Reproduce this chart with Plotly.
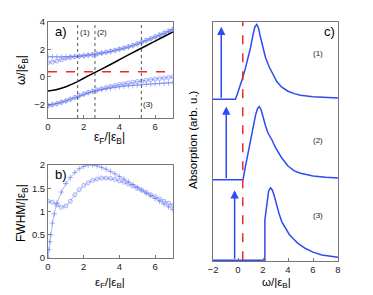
import plotly.graph_objects as go

# ---------------- data ----------------
eps = [0, 0.25, 0.5, 0.75, 1.0, 1.25, 1.5, 1.75, 2.0, 2.25, 2.5, 2.75, 3.0, 3.25, 3.5,
       3.75, 4.0, 4.25, 4.5, 4.75, 5.0, 5.25, 5.5, 5.75, 6.0, 6.25, 6.5, 6.75, 7.0]

upper_plus = [1.46, 1.46, 1.45, 1.45, 1.45, 1.46, 1.48, 1.5, 1.53, 1.57, 1.61, 1.66, 1.72, 1.78, 1.85,
              1.92, 2.0, 2.08, 2.17, 2.27, 2.39, 2.52, 2.64, 2.76, 2.9, 3.03, 3.17, 3.31, 3.45]
upper_circ = [1.05, 1.08, 1.15, 1.25, 1.35, 1.42, 1.47, 1.51, 1.55, 1.59, 1.63, 1.68, 1.74, 1.8, 1.87,
              1.94, 2.02, 2.1, 2.2, 2.3, 2.42, 2.55, 2.67, 2.79, 2.93, 3.06, 3.2, 3.34, 3.48]
lower_circ = [-2.1, -2.03, -1.95, -1.85, -1.75, -1.63, -1.5, -1.37, -1.25, -1.14, -1.04, -0.95, -0.86, -0.78, -0.7,
              -0.63, -0.56, -0.5, -0.44, -0.39, -0.34, -0.3, -0.25, -0.2, -0.16, -0.12, -0.08, -0.04, 0.0]
lower_plus = [-2.1, -2.03, -1.95, -1.86, -1.76, -1.64, -1.52, -1.39, -1.27, -1.16, -1.07, -0.99, -0.92, -0.86, -0.81,
              -0.76, -0.72, -0.68, -0.65, -0.62, -0.6, -0.57, -0.54, -0.52, -0.5, -0.48, -0.46, -0.44, -0.42]

eps_line = [0, 0.5, 1.0, 1.5, 2.0, 2.5, 3.0, 3.5, 4.0, 4.5, 5.0, 5.5, 6.0, 6.5, 7.0]
bare_line = [-1.04, -0.92, -0.72, -0.44, -0.1, 0.23, 0.56, 0.9, 1.25, 1.6, 1.94, 2.27, 2.61, 2.94, 3.27]

threshold = 0.38
eps_marks = [1.66, 2.63, 5.23]
mark_labels = ["(1)", "(2)", "(3)"]
mark_label_eps = [2.05, 3.0, 5.6]
mark_label_omega = [3.25, 3.25, -2.0]

eps_fw_plus = [0, 0.05, 0.1, 0.15, 0.25, 0.35, 0.5, 0.75, 1.0, 1.25, 1.5, 1.75, 2.0, 2.25, 2.5, 2.75, 3.0,
               3.25, 3.5, 3.75, 4.0, 4.25, 4.5, 4.75, 5.0, 5.25, 5.5, 5.75, 6.0, 6.25, 6.5, 6.75, 7.0]
fwhm_plus = [0.0, 0.18, 0.35, 0.5, 0.75, 0.95, 1.18, 1.42, 1.6, 1.73, 1.84, 1.92, 1.97, 2.0, 2.0, 1.98, 1.95,
             1.91, 1.86, 1.81, 1.75, 1.7, 1.64, 1.58, 1.52, 1.46, 1.4, 1.34, 1.28, 1.22, 1.16, 1.1, 1.04]
fwhm_circ = [1.22, 1.2, 1.14, 1.09, 1.12, 1.22, 1.36, 1.47, 1.56, 1.62, 1.67, 1.7, 1.72, 1.72, 1.71,
             1.69, 1.66, 1.63, 1.59, 1.55, 1.5, 1.46, 1.41, 1.36, 1.32, 1.27, 1.22, 1.18, 1.13]

omega1 = [-2, -0.2, 0.0, 0.2, 0.4, 0.6, 0.8, 1.0, 1.2, 1.35, 1.5, 1.65, 1.8, 2.0, 2.2, 2.5, 2.8, 3.1,
          3.5, 4.0, 4.5, 5.0, 6.0, 7.0, 8.0]
abs1 = [0, 0, 0.09, 0.18, 0.28, 0.39, 0.5, 0.64, 0.8, 0.9, 0.93, 0.88, 0.77, 0.63, 0.52, 0.4, 0.3, 0.22,
        0.15, 0.1, 0.07, 0.05, 0.03, 0.02, 0.015]
omega2 = [-2, 0.4, 0.6, 0.8, 1.0, 1.2, 1.4, 1.55, 1.7, 1.85, 2.0, 2.2, 2.4, 2.7, 3.0, 3.5, 4.0, 4.5,
          5.0, 5.5, 6.0, 7.0, 8.0]
abs2 = [0, 0, 0.17, 0.34, 0.5, 0.66, 0.8, 0.88, 0.91, 0.87, 0.78, 0.67, 0.58, 0.5, 0.4, 0.27, 0.17, 0.11,
        0.08, 0.06, 0.045, 0.03, 0.02]
omega3 = [-2, 2.15, 2.15, 2.3, 2.45, 2.6, 2.75, 2.9, 3.1, 3.3, 3.5, 3.8, 4.1, 4.4, 4.8, 5.4, 6.0, 6.7,
          7.4, 8.0]
abs3 = [0, 0, 0.5, 0.72, 0.86, 0.9, 0.87, 0.8, 0.68, 0.57, 0.48, 0.39, 0.32, 0.27, 0.21, 0.145, 0.1,
        0.065, 0.045, 0.035]
spec_offsets = [2, 1, 0]
arrow_omega = [-1.34, -0.94, -0.27]
arrow_height = [0.9, 0.91, 0.87]
spec_labels = ["(1)", "(2)", "(3)"]
spec_label_omega = 6.4
spec_label_rel = [0.57, 0.49, 0.56]

# ---------------- style ----------------
FONT = "Liberation Sans, Arial, sans-serif"
BLUE = "rgb(45,75,240)"
MBLUE = "rgba(95,115,240,0.7)"
AXC = "#777"
W, H = 373, 295


def px_x(x):
    return x / W


def px_y(y):
    return (H - y) / H


def marker_trace(x, y, xa, ya, symbol):
    return go.Scatter(x=x, y=y, mode="lines+markers", xaxis=xa, yaxis=ya,
                      line=dict(color=MBLUE, width=0.7),
                      marker=dict(symbol=symbol, size=4, color=MBLUE,
                                  line=dict(width=0.8, color=MBLUE)))


def label(xp, yp, text, size, angle=0):
    return dict(x=px_x(xp), y=px_y(yp), xref="paper", yref="paper", text=text,
                xanchor="center", yanchor="middle", textangle=angle, showarrow=False,
                font=dict(size=size, family=FONT, color="black"))


fig = go.Figure()

# Panel a
fig.add_trace(marker_trace(eps, upper_plus, "x", "y", "cross-thin-open"))
fig.add_trace(marker_trace(eps, upper_circ, "x", "y", "circle-open"))
fig.add_trace(marker_trace(eps, lower_plus, "x", "y", "cross-thin-open"))
fig.add_trace(marker_trace(eps, lower_circ, "x", "y", "circle-open"))
fig.add_trace(go.Scatter(x=eps_line, y=bare_line, mode="lines", xaxis="x", yaxis="y",
                         line=dict(color="black", width=1.5, shape="spline")))
fig.add_trace(go.Scatter(x=[0, 7], y=[threshold, threshold], mode="lines", xaxis="x", yaxis="y",
                         line=dict(color="rgb(240,40,40)", width=1.5, dash="dash")))
for e in eps_marks:
    fig.add_trace(go.Scatter(x=[e, e], y=[-3, 4], mode="lines", xaxis="x", yaxis="y",
                             line=dict(color="#555", width=1, dash="dot")))

# Panel b
fig.add_trace(marker_trace(eps_fw_plus, fwhm_plus, "x2", "y2", "cross-thin-open"))
fig.add_trace(marker_trace(eps, fwhm_circ, "x2", "y2", "circle-open"))

# Panel c
for om, ab, off in zip([omega1, omega2, omega3], [abs1, abs2, abs3], spec_offsets):
    fig.add_trace(go.Scatter(x=om, y=[a + off for a in ab], mode="lines", xaxis="x3", yaxis="y3",
                             line=dict(color=BLUE, width=1.5)))
fig.add_trace(go.Scatter(x=[threshold, threshold], y=[0, 3], mode="lines", xaxis="x3", yaxis="y3",
                         line=dict(color="rgb(240,40,40)", width=1.5, dash="dash")))

annotations = []
for om, h, off in zip(arrow_omega, arrow_height, spec_offsets):
    annotations.append(dict(x=om, y=off + h, ax=om, ay=off, xref="x3", yref="y3",
                            axref="x3", ayref="y3", showarrow=True, arrowhead=2,
                            arrowsize=1.1, arrowwidth=1.5, arrowcolor=BLUE, text=""))
for lab, rel, off in zip(spec_labels, spec_label_rel, spec_offsets):
    annotations.append(dict(x=spec_label_omega, y=off + rel, xref="x3", yref="y3", text=lab,
                            xanchor="center", yanchor="middle", showarrow=False,
                            font=dict(size=8, family=FONT, color="#222")))
for lab, e, o in zip(mark_labels, mark_label_eps, mark_label_omega):
    annotations.append(dict(x=e, y=o, xref="x", yref="y", text=lab, showarrow=False,
                            xanchor="center", yanchor="middle",
                            font=dict(size=8, family=FONT, color="#222")))

annotations += [
    label(61, 31, "a)", 13),
    label(61, 174, "b)", 13),
    label(329, 32, "c)", 13),
    label(22, 70, "ω/|ε<sub>B</sub>|", 12, -90),
    label(110, 138, "ε<sub>F</sub>/|ε<sub>B</sub>|", 12),
    label(22, 213, "FWHM/|ε<sub>B</sub>|", 12, -90),
    label(110, 283, "ε<sub>F</sub>/|ε<sub>B</sub>|", 11.5),
    label(193, 140, "Absorption (arb. u.)", 11.5, -90),
    label(276, 283, "ω/|ε<sub>B</sub>|", 11.5),
]

axis_common = dict(showline=True, linecolor=AXC, linewidth=1, mirror=True, ticks="inside",
                   ticklen=3, tickcolor=AXC, showgrid=False, zeroline=False, automargin=False,
                   tickfont=dict(size=9.5, family=FONT, color="#222"))
yaxis3_style = dict(axis_common)
yaxis3_style["ticks"] = ""

fig.update_layout(
    template="none",
    width=W, height=H, margin=dict(l=0, r=0, t=0, b=0, pad=0), autosize=False,
    paper_bgcolor="white", plot_bgcolor="white", showlegend=False,
    xaxis=dict(domain=[px_x(48), px_x(173)], range=[0, 7], tickvals=[0, 2, 4, 6],
               anchor="y", **axis_common),
    yaxis=dict(domain=[px_y(118), px_y(22)], range=[-3, 4], tickvals=[-2, 0, 2, 4],
               anchor="x", **axis_common),
    xaxis2=dict(domain=[px_x(48), px_x(173)], range=[0, 7], tickvals=[0, 2, 4, 6],
                anchor="y2", **axis_common),
    yaxis2=dict(domain=[px_y(258), px_y(165)], range=[0, 2], tickvals=[0, 0.5, 1, 1.5, 2],
                ticktext=["0", "0.5", "1", "1.5", "2"], anchor="x2", **axis_common),
    xaxis3=dict(domain=[px_x(213), px_x(338)], range=[-2, 8], tickvals=[-2, 0, 2, 4, 6, 8],
                anchor="y3", **axis_common),
    yaxis3=dict(domain=[px_y(261), px_y(22)], range=[-0.01, 2.96], showticklabels=False,
                anchor="x3", **yaxis3_style),
    annotations=annotations,
)

fig.write_html("out.html", config={"displayModeBar": False},
               post_script="document.body.style.margin='0';document.body.style.padding='0';"
                           "document.documentElement.style.overflow='hidden';")
